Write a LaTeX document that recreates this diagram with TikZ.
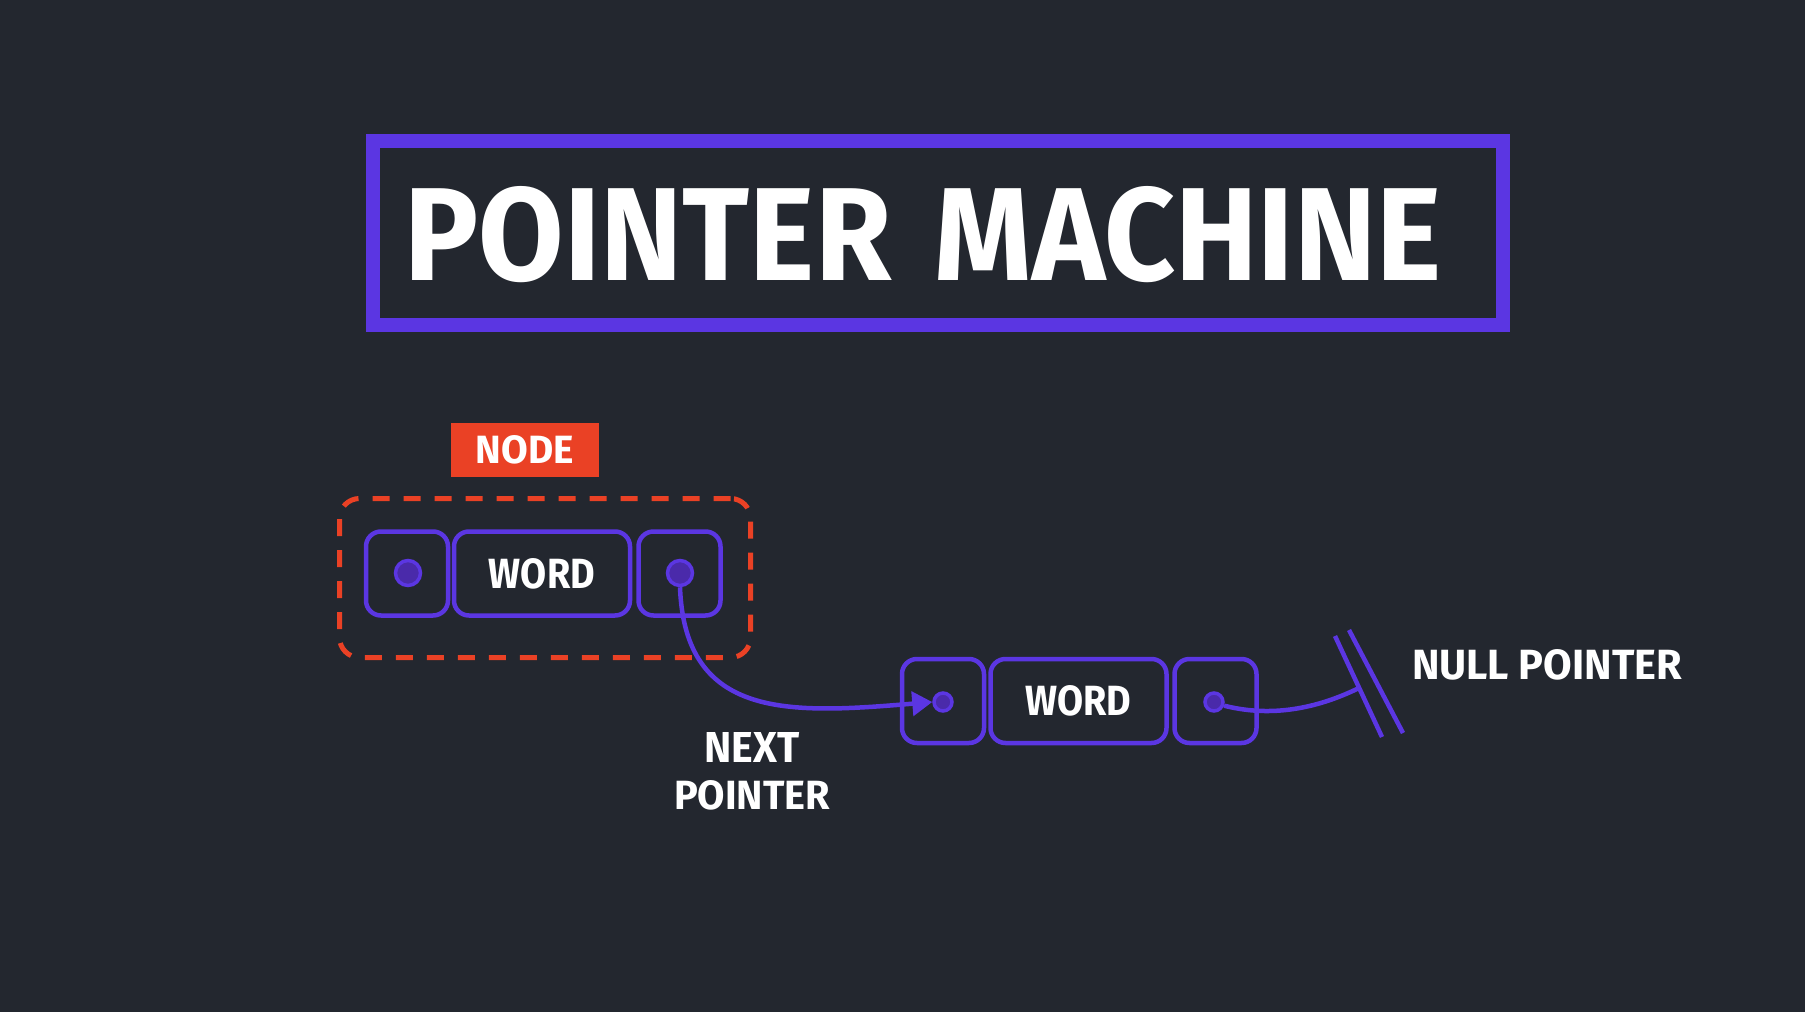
\documentclass[tikz,border=0pt]{standalone}
\usepackage{fontspec}
\setmainfont{Fira Sans}
\usepackage{graphicx}
\usetikzlibrary{arrows.meta}
\definecolor{bg}{RGB}{35,39,47}
\definecolor{pur}{RGB}{91,54,226}
\definecolor{purdark}{RGB}{74,42,170}
\definecolor{redor}{RGB}{234,65,37}
\newcommand{\fitlabel}[3]{\resizebox{#1pt}{#2pt}{\bfseries #3}}
\begin{document}
\begin{tikzpicture}[x=1pt,y=-1pt,
  cell/.style={draw=pur, line width=4.5pt, rounded corners=15pt, minimum width=82pt, minimum height=84pt, inner sep=0pt},
  wordcell/.style={cell, minimum width=176pt},
  dot/.style={circle, draw=pur, fill=purdark, line width=3.5pt, minimum size=25pt, inner sep=0pt},
  smalldot/.style={dot, minimum size=18pt},
  lbl/.style={text=white, inner sep=0pt},
  link/.style={draw=pur, line width=4.5pt},
]
\fill[bg] (0,0) rectangle (1805,1012);
\useasboundingbox (0,0) rectangle (1805,1012);

% title
\node[draw=pur, line width=14pt, minimum width=1130pt, minimum height=184pt, inner sep=0pt] (titlebox) at (937.5,233) {};
\node[lbl] (title) at (923,235) {\fitlabel{1036}{94}{POINTER\hspace{0.35em}MACHINE}};

% node frame and tag
\node[draw=redor, line width=5pt, rounded corners=20pt, dash pattern=on 17pt off 14pt, minimum width=411pt, minimum height=159pt, inner sep=0pt] (frame) at (545,578) {};
\node[fill=redor, minimum width=148pt, minimum height=54pt, inner sep=0pt, text=white] (nodetag) at (525,450) {\raisebox{-3pt}{\fitlabel{98}{28}{NODE}}};

% first list node
\node[cell] (a1) at (407,573.5) {};
\node[wordcell, text=white] (a2) at (542,573.5) {\raisebox{-3pt}{\fitlabel{106}{30}{WORD}}};
\node[cell] (a3) at (679.5,573.5) {};
\node[dot] (d1) at (408,573) {};
\node[dot] (d2) at (680,573) {};

% second list node
\node[cell] (b1) at (943,701) {};
\node[wordcell, text=white] (b2) at (1078.5,701) {\raisebox{-3pt}{\fitlabel{106}{30}{WORD}}};
\node[cell] (b3) at (1215.5,701) {};
\node[smalldot] (d3) at (943,702) {};
\node[smalldot] (d4) at (1214,702) {};

% next pointer
\draw[link, -{Triangle[length=20pt,width=24pt]}] (d2.south) .. controls (685,720) and (790,714) .. (d3.west);

% null pointer
\coordinate (n1a) at (1335,636);
\coordinate (n1b) at (1382,737);
\coordinate (n2a) at (1349,630);
\coordinate (n2b) at (1403,733);
\coordinate (nullj) at (1359,688);
\draw[link] (n1a) -- (n1b);
\draw[link] (n2a) -- (n2b);
\draw[link] (d4.-20) .. controls (1265,716) and (1310,712) .. (nullj);

% labels
\node[lbl] (nulllbl) at (1547,665) {\fitlabel{270}{30}{NULL POINTER}};
\node[lbl, align=center] (nextlbl) at (752,771) {\fitlabel{95}{30}{NEXT}\\[17pt]\fitlabel{156}{29}{POINTER}};
\end{tikzpicture}
\end{document}
